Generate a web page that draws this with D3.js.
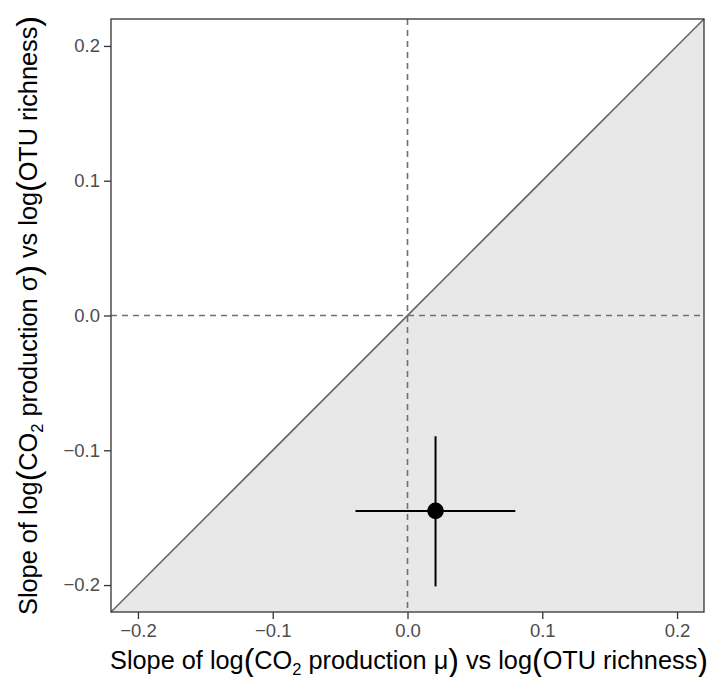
<!DOCTYPE html>
<html><head><meta charset="utf-8">
<script src="https://cdn.jsdelivr.net/npm/d3@7"></script>
<style>body{margin:0;background:#fff}</style>
</head><body>
<svg id="c" width="713" height="677"></svg>
<script>
const xTicks = [-0.2, -0.1, 0.0, 0.1, 0.2];
const yTicks = [-0.2, -0.1, 0.0, 0.1, 0.2];
const pointX = [0.0208];
const pointY = [-0.145];
const xErrLow = [-0.0386];
const xErrHigh = [0.080];
const yErrLow = [-0.201];
const yErrHigh = [-0.0896];
const domain = [-0.22, 0.22];

const svg = d3.select("#c");
const L = 111, R = 704, T = 19, B = 612;
const x = d3.scaleLinear().domain(domain).range([L, R]);
const y = d3.scaleLinear().domain(domain).range([B, T]);
const font = "Helvetica, 'Liberation Sans', Arial, sans-serif";

// shaded region below diagonal
svg.append("path")
  .attr("d", d3.line()([[x(domain[0]), y(domain[0])], [x(domain[1]), y(domain[1])], [x(domain[1]), y(domain[0])]]) + "Z")
  .attr("fill", "#E8E8E8");

// diagonal
svg.append("line")
  .attr("x1", x(domain[0])).attr("y1", y(domain[0]))
  .attr("x2", x(domain[1])).attr("y2", y(domain[1]))
  .attr("stroke", "#666").attr("stroke-width", 1.6);

// dashed zero lines
svg.append("line").attr("x1", x(0)).attr("x2", x(0)).attr("y1", T).attr("y2", B)
  .attr("stroke", "#707070").attr("stroke-width", 1.6).attr("stroke-dasharray", "6,5");
svg.append("line").attr("x1", L).attr("x2", R).attr("y1", y(0)).attr("y2", y(0))
  .attr("stroke", "#707070").attr("stroke-width", 1.6).attr("stroke-dasharray", "6,5");

// error bars
pointX.forEach((px, i) => {
  svg.append("line").attr("x1", x(xErrLow[i])).attr("x2", x(xErrHigh[i]))
    .attr("y1", y(pointY[i])).attr("y2", y(pointY[i])).attr("stroke", "#000").attr("stroke-width", 2);
  svg.append("line").attr("x1", x(px)).attr("x2", x(px))
    .attr("y1", y(yErrLow[i])).attr("y2", y(yErrHigh[i])).attr("stroke", "#000").attr("stroke-width", 2);
  svg.append("circle").attr("cx", x(px)).attr("cy", y(pointY[i])).attr("r", 8.3).attr("fill", "#000");
});

// panel border
svg.append("rect").attr("x", L).attr("y", T).attr("width", R - L).attr("height", B - T)
  .attr("fill", "none").attr("stroke", "#333").attr("stroke-width", 1.3);

const fmt = d => (d < 0 ? "\u2212" : "") + Math.abs(d).toFixed(1);

// x axis
const xa = svg.append("g").attr("transform", `translate(0,${B})`)
  .call(d3.axisBottom(x).tickValues(xTicks).tickFormat(fmt).tickSize(7).tickPadding(5));
xa.select(".domain").remove();
xa.selectAll(".tick line").attr("stroke", "#333").attr("stroke-width", 1.3);
xa.selectAll(".tick text").attr("fill", "#4D4D4D").attr("font-size", 18.5).attr("font-family", font);

// y axis
const ya = svg.append("g").attr("transform", `translate(${L},0)`)
  .call(d3.axisLeft(y).tickValues(yTicks).tickFormat(fmt).tickSize(7).tickPadding(4));
ya.select(".domain").remove();
ya.selectAll(".tick line").attr("stroke", "#333").attr("stroke-width", 1.3);
ya.selectAll(".tick text").attr("fill", "#4D4D4D").attr("font-size", 18.5).attr("font-family", font);

// axis titles
function title(t) {
  t.attr("font-family", font).attr("font-size", 25.3).attr("fill", "#000").attr("text-anchor", "middle");
}
function fill(t, sym) {
  t.append("tspan").text("Slope of log");
  t.append("tspan").attr("font-size", 32).attr("dy", 2).text("(");
  t.append("tspan").attr("dy", -2).text("CO");
  t.append("tspan").attr("font-size", 16.5).attr("dy", 6).text("2");
  t.append("tspan").attr("dy", -6).text(" production " + sym);
  t.append("tspan").attr("font-size", 32).attr("dy", 2).text(")");
  t.append("tspan").attr("dy", -2).text(" vs log");
  t.append("tspan").attr("font-size", 32).attr("dy", 2).text("(");
  t.append("tspan").attr("dy", -2).text("OTU richness");
  t.append("tspan").attr("font-size", 32).attr("dy", 2).text(")");
}
const xt = svg.append("text").attr("x", 409).attr("y", 669).call(title);
fill(xt, "\u03bc");

const yt = svg.append("text").attr("transform", `translate(37,${(T + B) / 2}) rotate(-90)`).call(title);
fill(yt, "\u03c3");
</script>
</body></html>
